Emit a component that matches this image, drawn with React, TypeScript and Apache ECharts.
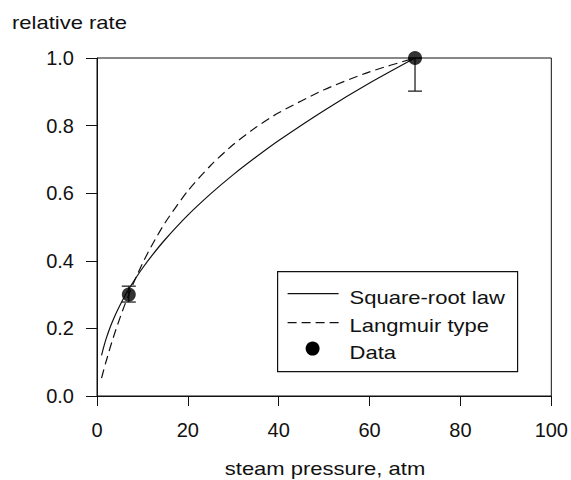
import React, { useEffect, useRef } from "react";
import * as echarts from "echarts";

const curveX = [1, 1.5, 2, 3, 4, 5, 6, 7, 8, 10, 12, 15, 20, 25, 30, 35, 40, 50, 60, 70];
const squareRootLaw = [0.12, 0.146, 0.169, 0.207, 0.239, 0.267, 0.293, 0.316, 0.338, 0.378, 0.414, 0.463, 0.535, 0.598, 0.655, 0.707, 0.756, 0.845, 0.926, 1.0];
const langmuirType = [0.053, 0.078, 0.102, 0.148, 0.19, 0.229, 0.266, 0.3, 0.333, 0.392, 0.444, 0.513, 0.607, 0.682, 0.744, 0.795, 0.838, 0.906, 0.959, 1.0];

const dataX = [7, 70];
const dataY = [0.3, 1.0];
const errLow = [0.278, 0.902];
const errHigh = [0.325, 1.0];

const xTicks = [0, 20, 40, 60, 80, 100];
const yTicks = [0, 0.2, 0.4, 0.6, 0.8, 1.0];

const legendLabels = ["Square-root law", "Langmuir type", "Data"];
const yTitle = "relative rate";
const xTitle = "steam pressure, atm";

const FONT = "Liberation Sans, Arial, Helvetica, sans-serif";
const INK = "#111";
const SY = 0.87;

export default function App() {
  const ref = useRef<HTMLDivElement>(null);
  useEffect(() => {
    if (!ref.current) return;
    const chart = echarts.init(ref.current, undefined, { renderer: "svg" });
    const left = 97, top = 58, right = 18, bottom = 84;
    const txt = (text: string, x: number, y: number, align = "left") => ({
      type: "text",
      x,
      y,
      scaleY: SY,
      style: { text, fontFamily: FONT, fontSize: 22, fill: INK, align, verticalAlign: "middle" },
    });
    const option: any = {
      animation: false,
      backgroundColor: "#fff",
      grid: { left, top, right, bottom, show: true, borderColor: INK, borderWidth: 1, backgroundColor: "transparent" },
      xAxis: {
        type: "value",
        min: xTicks[0],
        max: xTicks[xTicks.length - 1],
        interval: 20,
        axisLine: { show: true, onZero: false, lineStyle: { color: INK, width: 1 } },
        axisTick: { show: true, inside: false, length: 10, lineStyle: { color: INK, width: 1 } },
        axisLabel: { margin: 24, fontFamily: FONT, fontSize: 20, color: INK },
        splitLine: { show: false },
      },
      yAxis: {
        type: "value",
        min: yTicks[0],
        max: yTicks[yTicks.length - 1],
        interval: 0.2,
        axisLine: { show: true, onZero: false, lineStyle: { color: INK, width: 1 } },
        axisTick: { show: true, inside: false, length: 11, lineStyle: { color: INK, width: 1 } },
        axisLabel: { margin: 23, fontFamily: FONT, fontSize: 20, color: INK, formatter: (v: number) => v.toFixed(1) },
        splitLine: { show: false },
      },
      series: [
        {
          name: legendLabels[0],
          type: "line",
          data: curveX.map((x, i) => [x, squareRootLaw[i]]),
          showSymbol: false,
          smooth: 0.25,
          lineStyle: { color: INK, width: 1.2 },
          z: 2,
        },
        {
          name: legendLabels[1],
          type: "line",
          data: curveX.map((x, i) => [x, langmuirType[i]]),
          showSymbol: false,
          smooth: 0.25,
          lineStyle: { color: INK, width: 1.2, type: [9, 5] },
          z: 2,
        },
        {
          name: "errors",
          type: "custom",
          data: dataX.map((x, i) => [x, errLow[i], errHigh[i]]),
          renderItem: (params: any, api: any) => {
            const x = api.value(0);
            const lo = api.coord([x, api.value(1)]);
            const hi = api.coord([x, api.value(2)]);
            const cw = 7;
            const style = { stroke: INK, lineWidth: 1.2 };
            return {
              type: "group",
              children: [
                { type: "line", shape: { x1: lo[0], y1: lo[1], x2: hi[0], y2: hi[1] }, style },
                { type: "line", shape: { x1: lo[0] - cw, y1: lo[1], x2: lo[0] + cw, y2: lo[1] }, style },
                { type: "line", shape: { x1: hi[0] - cw, y1: hi[1], x2: hi[0] + cw, y2: hi[1] }, style },
              ],
            };
          },
          z: 3,
        },
        {
          name: legendLabels[2],
          type: "scatter",
          data: dataX.map((x, i) => [x, dataY[i]]),
          symbol: "circle",
          symbolSize: 14,
          itemStyle: { color: "#000" },
          z: 4,
        },
      ],
      graphic: [
        txt(yTitle, 12, 22),
        txt(xTitle, 325, 468, "center"),
        {
          type: "group",
          left: 277,
          top: 271,
          children: [
            { type: "rect", shape: { x: 0, y: 0, width: 240, height: 100 }, style: { fill: "#fff", stroke: INK, lineWidth: 1.2 } },
            { type: "line", shape: { x1: 10, y1: 22, x2: 61, y2: 22 }, style: { stroke: INK, lineWidth: 1.2 } },
            { type: "line", shape: { x1: 10, y1: 51, x2: 61, y2: 51 }, style: { stroke: INK, lineWidth: 1.2, lineDash: [9, 5] } },
            { type: "circle", shape: { cx: 35, cy: 77, r: 7 }, style: { fill: "#000" } },
            txt(legendLabels[0], 72, 25),
            txt(legendLabels[1], 72, 53),
            txt(legendLabels[2], 72, 80),
          ],
          z: 10,
        },
      ],
    };
    chart.setOption(option);
    return () => chart.dispose();
  }, []);
  return <div ref={ref} style={{ position: "fixed", left: 0, top: 0, width: 571, height: 480 }} />;
}
